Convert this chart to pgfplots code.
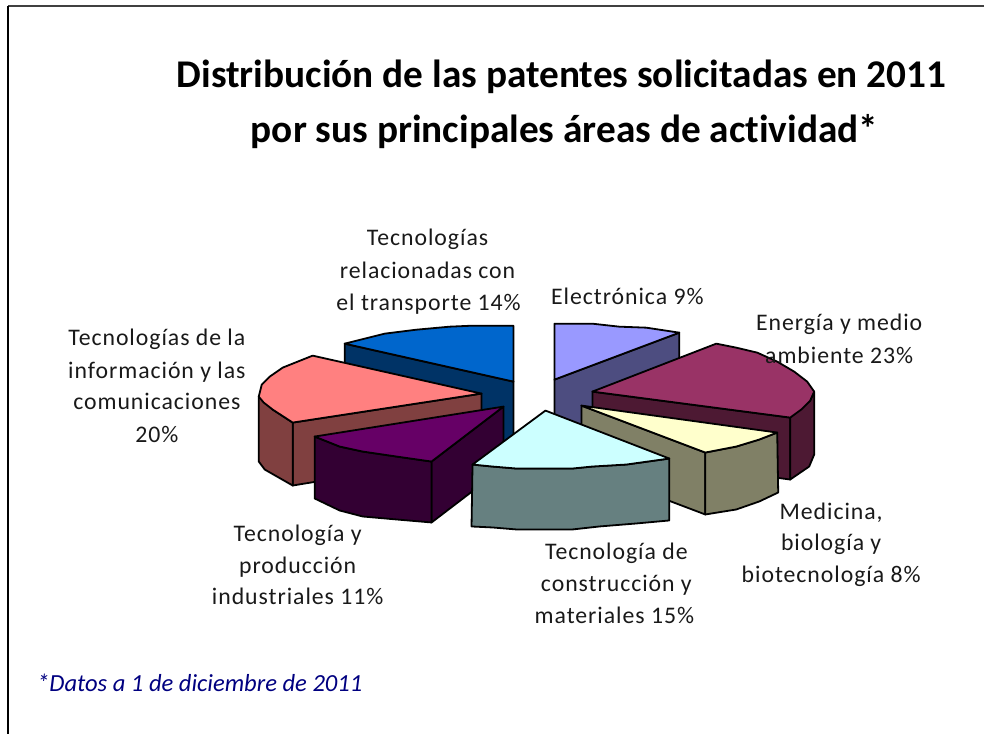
\documentclass[border=0pt]{standalone}
\usepackage{fontspec}
\setmainfont{Carlito}[Ligatures=NoCommon]
\newfontfamily\lblfont[LetterSpace=4,Ligatures=NoCommon]{Carlito}
\usepackage{pgfplots}
\pgfplotsset{compat=1.18}
\definecolor{bluetop}{HTML}{0066CC}\definecolor{blueside}{HTML}{003366}
\definecolor{saltop}{HTML}{FF8080}\definecolor{salside}{HTML}{804040}
\definecolor{purtop}{HTML}{660066}\definecolor{purside}{HTML}{330033}
\definecolor{cyantop}{HTML}{CCFFFF}\definecolor{cyanside}{HTML}{668080}
\definecolor{peritop}{HTML}{9999FF}\definecolor{periside}{HTML}{4D4D80}
\definecolor{martop}{HTML}{993366}\definecolor{marside}{HTML}{4D1933}
\definecolor{yeltop}{HTML}{FFFFCC}\definecolor{yelside}{HTML}{808066}
\definecolor{foot}{HTML}{000080}
\newcommand\lab[3]{\node[anchor=base,inner sep=0pt,font=\lblfont\fontsize{23.8}{24}\selectfont,text=black!90] at (axis cs:#1,#2) {#3};}
\begin{document}
\begin{tikzpicture}
\begin{axis}[
  scale only axis, width=985pt, height=735pt,
  xmin=0, xmax=985, ymin=0, ymax=735, y dir=reverse,
  hide axis, clip=false,
  every axis plot/.append style={line width=1.8pt, line join=round, black},
]
\path (axis cs:0,0) rectangle (axis cs:985,735);
% frame
\addplot[line width=2pt, color=black!75, forget plot] coordinates {(985,6.5) (8,6.5)};
\addplot[line width=2pt, color=black, forget plot] coordinates {(8,6) (8,735)};
% Transporte
\addplot[draw=black, fill=blueside] coordinates {(345,344) (514,382) (514,445) (345,445)} -- cycle;
\addplot[draw=black, fill=bluetop] coordinates {(345,344) (365,339) (385,334) (417,330) (450,327) (473,326) (514,326) (514,382)} -- cycle;
% Electronica
\addplot[draw=black, fill=periside] coordinates {(555,380) (680,333) (680,400) (555,445)} -- cycle;
\addplot[draw=black, fill=peritop] coordinates {(555,324) (593,324) (620,327) (647,328) (680,333) (555,380)} -- cycle;
% TIC
\addplot[draw=black, fill=salside] coordinates {(293,423) (482,394) (482,455) (293,486)} -- cycle;
\addplot[draw=black, fill=salside] coordinates {(259,397) (273,410) (293,423) (293,486) (265,470) (259,462)} -- cycle;
\addplot[draw=black, fill=saltop] coordinates {(313,356) (303,360) (283,368) (270,377) (262,385) (259,397) (264,403) (273,410) (293,423) (482,394)} -- cycle;
% Produccion
\addplot[draw=black, fill=purside] coordinates {(432,462) (504,407) (504,468) (432,523)} -- cycle;
\addplot[draw=black, fill=purside] coordinates {(315,437) (340,447) (363,452) (397,457) (432,462) (432,523) (397,520) (363,517) (340,511) (315,499)} -- cycle;
\addplot[draw=black, fill=purtop] coordinates {(315,437) (504,407) (432,462) (397,457) (363,452) (340,447)} -- cycle;
% Energia
\addplot[draw=black, fill=marside] coordinates {(593,392) (791,418) (791,480) (593,454)} -- cycle;
\addplot[draw=black, fill=marside] coordinates {(791,418) (811,401) (815,392) (815,455) (810,467) (791,480)} -- cycle;
\addplot[draw=black, fill=martop] coordinates {(593,392) (717,344) (737,348) (758,353) (778,362) (795,372) (808,382) (815,392) (811,401) (802,410) (791,418)} -- cycle;
% Medicina
\addplot[draw=black, fill=yelside] coordinates {(582,406) (706,453) (706,515) (582,468)} -- cycle;
\addplot[draw=black, fill=yelside] coordinates {(706,453) (737,447) (760,440) (778,433) (779,493) (760,502) (737,510) (706,515)} -- cycle;
\addplot[draw=black, fill=yeltop] coordinates {(582,406) (778,433) (760,440) (737,447) (706,453)} -- cycle;
% Construccion
\addplot[draw=black, fill=cyanside] coordinates {(473,465) (493,467) (517,469) (573,469) (593,467) (627,465) (670,459) (670,521) (637,524) (600,527) (573,530) (517,530) (493,528) (472,527)} -- cycle;
\addplot[draw=black, fill=cyantop] coordinates {(546,411) (670,459) (627,465) (593,467) (573,469) (517,469) (493,467) (473,465)} -- cycle;
% Title
\node[anchor=base,inner sep=0pt,font=\fontsize{39.3}{40}\selectfont\bfseries] at (axis cs:562,88) {Distribución de las patentes solicitadas en 2011};
\node[anchor=base,inner sep=0pt,font=\fontsize{39.3}{40}\selectfont\bfseries] at (axis cs:565,143) {por sus principales áreas de actividad*};
% Labels
\lab{428}{245.5}{Tecnologías}
\lab{428}{278.5}{relacionadas con}
\lab{429}{310.5}{el transporte 14\%}
\lab{628}{304.5}{Electrónica 9\%}
\lab{840}{330.5}{Energía y medio}
\lab{840}{363.5}{ambiente 23\%}
\lab{157}{345.5}{Tecnologías de la}
\lab{157}{378.5}{información y las}
\lab{157}{409.5}{comunicaciones}
\lab{157}{442.5}{20\%}
\lab{298}{542.5}{Tecnología y}
\lab{298}{574.5}{producción}
\lab{298}{605.5}{industriales 11\%}
\lab{617}{560.5}{Tecnología de}
\lab{617}{592.5}{construcción y}
\lab{615}{624.5}{materiales 15\%}
\lab{832}{520.5}{Medicina,}
\lab{832}{551.5}{biología y}
\lab{832}{583.5}{biotecnología 8\%}
\node[anchor=base west,inner sep=0pt,font=\fontsize{24.6}{25}\selectfont\itshape,text=foot] at (axis cs:37,692) {*Datos a 1 de diciembre de 2011};
\end{axis}
\end{tikzpicture}
\end{document}
